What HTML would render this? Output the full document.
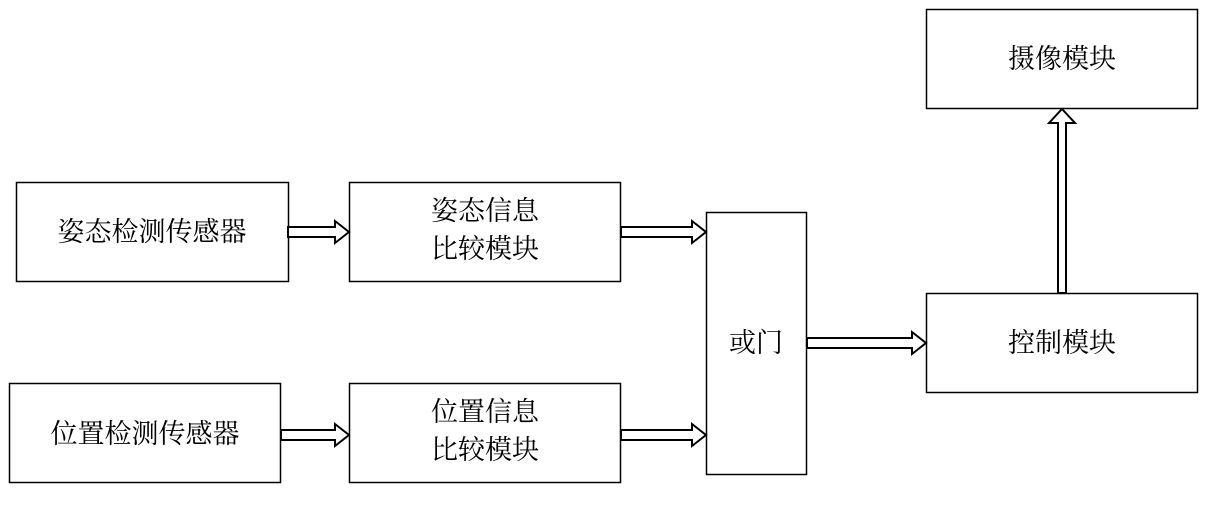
<!DOCTYPE html>
<html><head><meta charset="utf-8"><style>
body{margin:0;background:#fff;}
svg text{font-family:"Noto Serif CJK SC","Noto Sans CJK SC",serif;font-size:27px;fill:#000;text-anchor:middle;}
</style></head><body>
<svg width="1208" height="500" xmlns="http://www.w3.org/2000/svg">
<g fill="#fff" stroke="#000" stroke-width="1.5">
<rect x="16.5" y="182.5" width="272" height="99"/>
<rect x="349.5" y="182.5" width="271" height="99"/>
<rect x="9.5" y="383.5" width="271" height="99"/>
<rect x="349.5" y="383.5" width="271" height="99"/>
<rect x="706.5" y="212.5" width="100" height="262"/>
<rect x="926.5" y="293.5" width="271" height="99"/>
<rect x="926.5" y="9.5" width="271" height="99"/>
</g>
<g fill="#fff" stroke="#000" stroke-width="2">
<polygon points="288,227 335,227 335,221 349,232 335,243 335,237 288,237"/>
<polygon points="621,227 692,227 692,221 706,232 692,243 692,237 621,237"/>
<polygon points="281,430 335,430 335,424 349,435 335,446 335,440 281,440"/>
<polygon points="621,430 692,430 692,424 706,435 692,446 692,440 621,440"/>
<polygon points="807,338 912,338 912,332 926,343 912,354 912,348 807,348"/>
<polygon points="1058,293 1058,123 1049,123 1062,109 1075,123 1066,123 1066,293"/>
</g>
<text x="152" y="241">姿态检测传感器</text>
<text x="485" y="220">姿态信息</text>
<text x="485" y="258">比较模块</text>
<text x="145" y="443">位置检测传感器</text>
<text x="485" y="421">位置信息</text>
<text x="485" y="459">比较模块</text>
<text x="756" y="352">或门</text>
<text x="1062" y="352">控制模块</text>
<text x="1062" y="68">摄像模块</text>
</svg>
</body></html>
